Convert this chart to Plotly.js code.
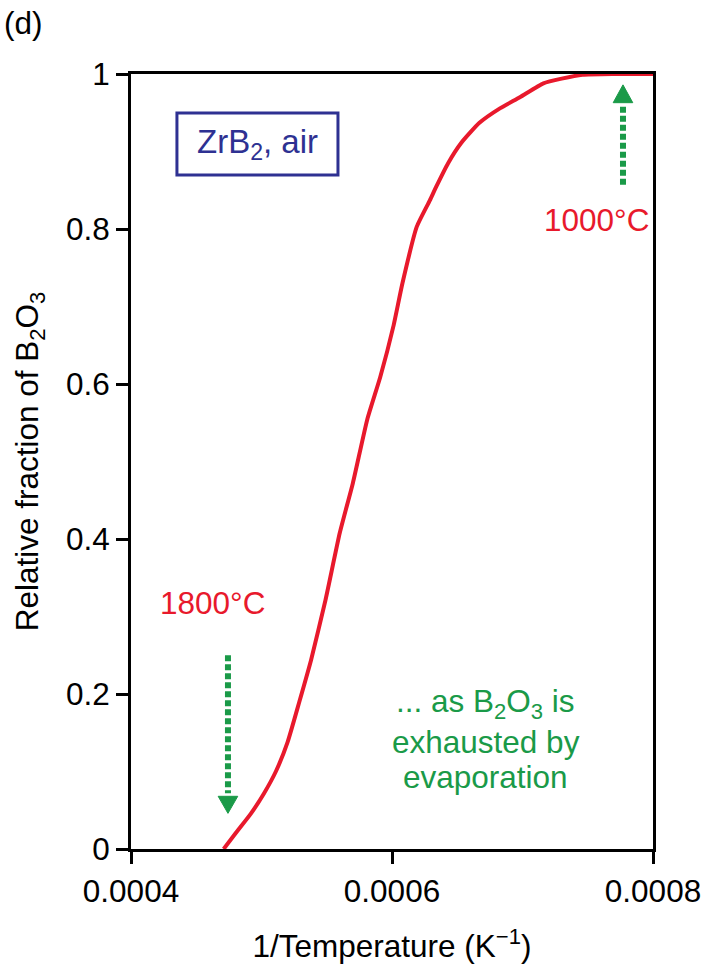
<!DOCTYPE html>
<html>
<head>
<meta charset="utf-8">
<script src="https://cdn.plot.ly/plotly-3.0.1.min.js"></script>
<style>html,body{margin:0;padding:0;background:#fff;}#chart{width:704px;height:967px;}</style>
</head>
<body>
<div id="chart"></div>
<script>
// Inverse temperature (1/K) and relative fraction of B2O3
const invTemp = [0.000471, 0.000480, 0.000492, 0.000502, 0.000511, 0.000520, 0.000529, 0.000538,
                 0.000549, 0.000560, 0.000570, 0.000581, 0.000591, 0.000601, 0.000608, 0.000619,
                 0.000629, 0.000634, 0.000643, 0.000653, 0.000667, 0.000683, 0.000698, 0.000716,
                 0.000730, 0.000746, 0.000770, 0.000800];
const fraction = [0, 0.020, 0.046, 0.072, 0.100, 0.138, 0.190, 0.244,
                  0.321, 0.408, 0.472, 0.554, 0.609, 0.674, 0.730, 0.803,
                  0.837, 0.855, 0.885, 0.911, 0.937, 0.956, 0.970, 0.988,
                  0.994, 0.999, 1.000, 1.000];
const xTicks = [0.0004, 0.0006, 0.0008];
const xTickText = ['0.0004', '0.0006', '0.0008'];
const yTicks = [0, 0.2, 0.4, 0.6, 0.8, 1];
const yTickText = ['0', '0.2', '0.4', '0.6', '0.8', '1'];
const noteLines = ['... as B<sub>2</sub>O<sub>3</sub> is', 'exhausted by', 'evaporation'];

const FONT = 'Liberation Sans, Arial, sans-serif';
const FS = 31.5;
const RED = '#e8192c';
const GREEN = '#1a9a48';
const NAVY = '#2e3192';

const trace = {
  x: invTemp, y: fraction, type: 'scatter', mode: 'lines',
  line: {color: RED, width: 4, shape: 'spline', smoothing: 0.5}, hoverinfo: 'skip', showlegend: false
};

// arrow geometry in data units
const hw = 0.0000075;
const shapes = [
  // down arrow near 1800 C
  {type: 'line', xref: 'x', yref: 'y', x0: 0.0004743, x1: 0.0004743, y0: 0.250, y1: 0.072,
   line: {color: GREEN, width: 6, dash: '6px,3px'}},
  {type: 'path', xref: 'x', yref: 'y',
   path: `M ${0.0004743 - hw} 0.068 L ${0.0004743 + hw} 0.068 L 0.0004743 0.046 Z`,
   fillcolor: GREEN, line: {color: GREEN, width: 1}},
  // up arrow near 1000 C
  {type: 'line', xref: 'x', yref: 'y', x0: 0.000777, x1: 0.000777, y0: 0.857, y1: 0.960,
   line: {color: GREEN, width: 6, dash: '6px,3px'}},
  {type: 'path', xref: 'x', yref: 'y',
   path: `M ${0.000777 - hw} 0.963 L ${0.000777 + hw} 0.963 L 0.000777 0.986 Z`,
   fillcolor: GREEN, line: {color: GREEN, width: 1}},
  // legend-like box
  {type: 'rect', xref: 'x', yref: 'y', x0: 0.0004352, x1: 0.0005586, y0: 0.8697, y1: 0.9497,
   line: {color: NAVY, width: 3}, fillcolor: 'rgba(0,0,0,0)'}
];

const noteY = [0.188, 0.138, 0.093];
const annotations = [
  {text: '(d)', xref: 'paper', yref: 'paper', x: -0.247, y: 1.066, xanchor: 'left', yanchor: 'middle',
   showarrow: false, font: {family: FONT, size: FS, color: '#000'}},
  {text: 'ZrB<sub>2</sub>, air', xref: 'x', yref: 'y', x: 0.0004969, y: 0.9097,
   showarrow: false, font: {family: FONT, size: 33, color: NAVY}},
  {text: '1000°C', xref: 'x', yref: 'y', x: 0.000757, y: 0.812,
   showarrow: false, font: {family: FONT, size: FS, color: RED}},
  {text: '1800°C', xref: 'x', yref: 'y', x: 0.0004621, y: 0.318,
   showarrow: false, font: {family: FONT, size: FS, color: RED}}
].concat(noteLines.map((t, i) => ({
  text: t, xref: 'x', yref: 'y', x: 0.000672, y: noteY[i], showarrow: false,
  font: {family: FONT, size: FS, color: GREEN}
})));

const layout = {
  width: 704, height: 967,
  margin: {l: 131, r: 51, t: 74, b: 118},
  paper_bgcolor: '#fff', plot_bgcolor: '#fff',
  font: {family: FONT, size: FS, color: '#000'},
  showlegend: false,
  xaxis: {
    range: [0.0004, 0.0008], tickvals: xTicks, ticktext: xTickText,
    showgrid: false, zeroline: false, showline: true, mirror: true,
    linecolor: '#000', linewidth: 3, ticks: 'outside', ticklen: 12, tickwidth: 3, tickcolor: '#000',
    tickfont: {family: FONT, size: FS, color: '#000'}, layer: 'below traces',
    title: {text: '1/Temperature (K<sup>−1</sup>)', font: {family: FONT, size: FS, color: '#000'}, standoff: 28},
    automargin: false, fixedrange: true
  },
  yaxis: {
    range: [0, 1], tickvals: yTicks, ticktext: yTickText,
    showgrid: false, zeroline: false, showline: true, mirror: true,
    linecolor: '#000', linewidth: 3, ticks: 'outside', ticklen: 12, tickwidth: 3, tickcolor: '#000',
    tickfont: {family: FONT, size: FS, color: '#000'}, layer: 'below traces',
    title: {text: 'Relative fraction of B<sub>2</sub>O<sub>3</sub>', font: {family: FONT, size: FS, color: '#000'}, standoff: 18},
    automargin: false, fixedrange: true
  },
  shapes: shapes,
  annotations: annotations
};

Plotly.newPlot('chart', [trace], layout, {staticPlot: true, displayModeBar: false});
</script>
</body>
</html>
